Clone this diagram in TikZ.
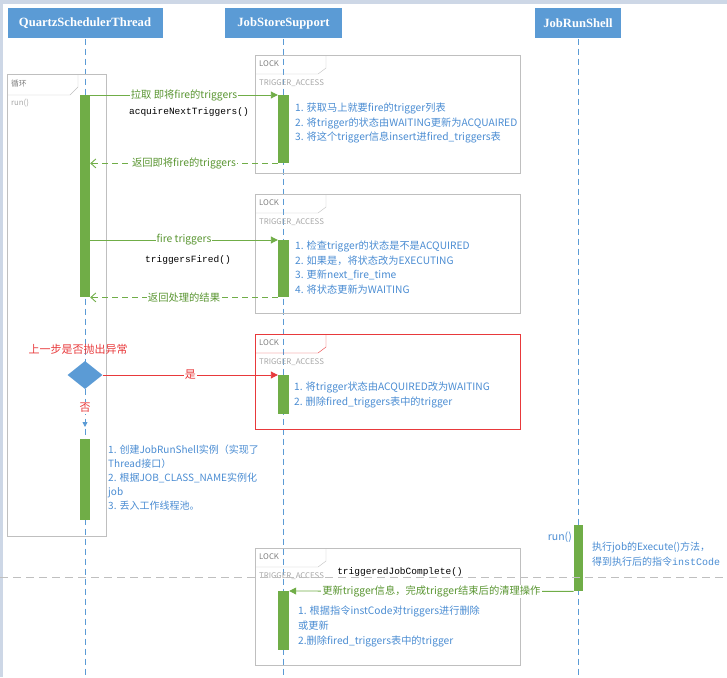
\documentclass[tikz,border=0pt]{standalone}
\usepackage{fontspec}
\setmainfont{Liberation Serif}
\newfontfamily\cjk{Noto Sans CJK SC}
\newfontfamily\code{Liberation Mono}
\usetikzlibrary{arrows.meta,shapes.geometric}
\definecolor{headblue}{HTML}{5B9BD5}
\definecolor{notetext}{HTML}{4A8CD2}
\definecolor{bargreen}{HTML}{70AD47}
\definecolor{msggreen}{HTML}{5A9632}
\definecolor{framegray}{HTML}{BFBFBF}
\definecolor{lockgray}{HTML}{808080}
\definecolor{accessgray}{HTML}{A6A6A6}
\definecolor{lockred}{HTML}{E8393B}
\definecolor{edgeblue}{HTML}{CDD7E6}
\tikzset{
  head/.style={fill=headblue, text=white, minimum height=30pt, inner sep=0pt, font=\bfseries\fontsize{12.6}{12.6}\selectfont},
  life/.style={draw=headblue, dash pattern=on 6pt off 4pt},
  bar/.style={fill=bargreen, minimum width=10pt, inner sep=0pt, anchor=north},
  call/.style={draw=bargreen, line width=0.9pt, -{Triangle[length=7pt,width=7pt]}},
  reply/.style={draw=bargreen, line width=0.9pt, dash pattern=on 6pt off 4pt, -{Straight Barb[length=5pt,width=9pt]}},
  msg/.style={fill=white, text=msggreen, font=\cjk\fontsize{10.3}{10}\selectfont, inner sep=1pt},
  method/.style={font=\code\fontsize{9.5}{10}\selectfont},
  note/.style={text=notetext, font=\cjk\fontsize{10.2}{14.5}\selectfont, align=left, anchor=north west, inner sep=0pt},
  tag/.style={font=\cjk\fontsize{7.8}{8}\selectfont, anchor=west, inner sep=0pt},
  alert/.style={text=lockred, font=\cjk\fontsize{11}{11}\selectfont},
}
\begin{document}
\begin{tikzpicture}[x=1pt, y=-1pt]
\useasboundingbox (0,0) rectangle (727,677);
\fill[edgeblue] (0,0) rectangle (727,4);
\fill[edgeblue] (0,0) rectangle (3,677);
% participants
\node[head, minimum width=155pt] (quartz) at (85,23.5) {QuartzSchedulerThread};
\node[head, minimum width=117pt] (store) at (283.5,23.5) {JobStoreSupport};
\node[head, minimum width=86pt] (shell) at (578,23.5) {JobRunShell};
\coordinate (quartzend) at (85,677);
\coordinate (storeend) at (283.5,677);
\coordinate (shellend) at (578,677);
\draw[life] (quartz.south) -- (quartzend);
\draw[life] (store.south) -- (storeend);
\draw[life] (shell.south) -- (shellend);
% loop frame
\draw[framegray] (7,74) rectangle (106,536);
\draw[framegray] (7,95) -- (70,95) -- (78,87) -- (78,74);
\node[tag, text=lockgray] (loop) at (11,84) {循环};
\node[tag, text=accessgray] (loopcall) at (11,103) {run()};
% lock frames
\foreach \n/\top/\bot/\col in {a/55/173/framegray, b/194/313/framegray, c/334/429/lockred, d/548/665/framegray} {
  \draw[\col] (255,\top) rectangle (520,\bot);
  \draw[\col] (255,\top+19) -- (318,\top+19) -- (326,\top+13) -- (326,\top);
  \node[tag, text=lockgray] (lock\n) at (259,\top+9) {LOCK};
  \node[tag, text=accessgray] (access\n) at (259,\top+28.5) {TRIGGER\_ACCESS};
}
% activations
\node[bar, minimum height=202pt] (qbar1) at (85,95) {};
\node[bar, minimum height=81pt] (qbar2) at (85,439) {};
\node[bar, minimum width=11pt, minimum height=68pt] (jbar1) at (283.5,95) {};
\node[bar, minimum width=11pt, minimum height=57pt] (jbar2) at (283.5,240) {};
\node[bar, minimum width=11pt, minimum height=39pt] (jbar3) at (283.5,375) {};
\node[bar, minimum width=11pt, minimum height=59pt] (jbar4) at (283.5,591) {};
\node[bar, minimum width=9.5pt, minimum height=66pt] (rbar) at (578.5,525) {};
% messages
\draw[call] (qbar1.north east) -- node[msg] {拉取 即将fire的triggers} (jbar1.north west);
\node[method] (acquire) at (189,112) {acquireNextTriggers()};
\draw[reply] (jbar1.south west) -- node[msg] {返回即将fire的triggers} (qbar1.east |- jbar1.south west);
\draw[call] (qbar1.east |- jbar2.north west) -- node[msg] {fire triggers} (jbar2.north west);
\node[method] (fired) at (188,260) {triggersFired()};
\draw[reply] (jbar2.south west) -- node[msg] {返回处理的结果} (qbar1.south east);
% exception check
\node[alert] (ask) at (78,349) {上一步是否抛出异常};
\node[diamond, fill=headblue, minimum width=35pt, minimum height=28pt, inner sep=0pt] (check) at (85,375) {};
\draw[lockred, line width=0.9pt, -{Triangle[length=7pt,width=7pt]}] (check.east) -- node[alert, fill=white, inner sep=1pt] {是} (jbar3.north west);
\coordinate (nobranch) at (85,427);
\draw[headblue, line width=0.8pt, dash pattern=on 6pt off 4pt, -{Triangle[length=5pt,width=5pt]}] (check.south) -- node[alert, fill=white, inner sep=1pt] {否} (nobranch);
% notes
\node[note] (notea) at (295,103) {1. 获取马上就要fire的trigger列表\\2. 将trigger的状态由WAITING更新为ACQUAIRED\\3. 将这个trigger信息insert进fired\_triggers表};
\node[note] (noteb) at (295,241) {1. 检查trigger的状态是不是ACQUIRED\\2. 如果是，将状态改为EXECUTING\\3. 更新next\_fire\_time\\4. 将状态更新为WAITING};
\node[note] (notec) at (294,382) {1. 将trigger状态由ACQUIRED改为WAITING\\2. 删除fired\_triggers表中的trigger};
\node[note, font=\cjk\fontsize{10}{14}\selectfont] (noteq) at (108,445) {1. 创建JobRunShell实例（实现了\\Thread接口）\\2.  根据JOB\_CLASS\_NAME实例化\\job\\3. 丢入工作线程池。};
\node[note, font=\cjk\fontsize{10}{15}\selectfont] (noter) at (592,542) {执行job的Execute()方法，\\得到执行后的指令{\code instCode}};
\node[note, font=\cjk\fontsize{10.2}{15}\selectfont] (noted) at (298,606) {1. 根据指令instCode对triggers进行删除\\或更新\\2.删除fired\_triggers表中的trigger};
\node[text=notetext, font=\cjk\fontsize{10.5}{10}\selectfont, anchor=east, inner sep=1pt] (runlabel) at (573,537) {run()};
% job complete
\node[method] (complete) at (400,572) {triggeredJobComplete()};
\draw[call] (rbar.south west) -- node[msg] {更新trigger信息，完成trigger结束后的清理操作} (jbar4.north east);
\draw[framegray, line width=1pt, dash pattern=on 8pt off 5pt] (0,577) -- (727,577);
\end{tikzpicture}
\end{document}
